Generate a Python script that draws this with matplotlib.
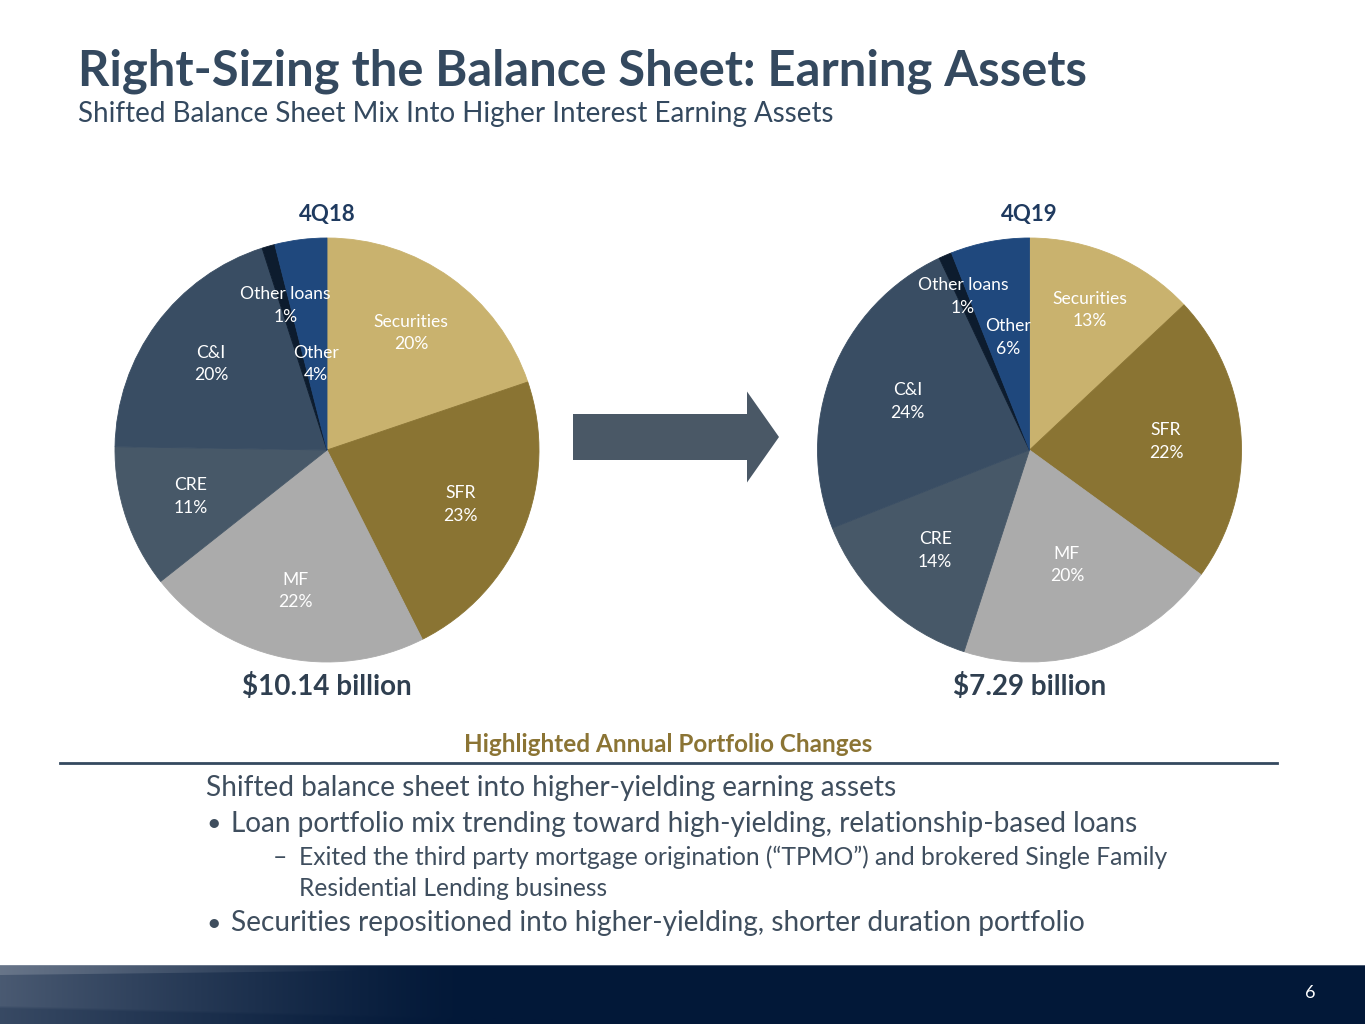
import matplotlib
matplotlib.use("Agg")
import matplotlib.pyplot as plt
import matplotlib.patches as mpatches
import numpy as np

plt.rcParams['font.family'] = ['Lato', 'DejaVu Sans']

# data
categories = ['Securities', 'SFR', 'MF', 'CRE', 'C&I', 'Other loans', 'Other']
share_4q18 = [20, 23, 22, 11, 20, 1, 4]
share_4q19 = [13, 22, 20, 14, 24, 1, 6]
totals = ['$10.14 billion', '$7.29 billion']
periods = ['4Q18', '4Q19']

colors = ['#C9B26E', '#8A7433', '#ABABAB', '#475868', '#394D63', '#0D1C2E', '#1F487D']
# label distance from centre (fraction of radius), per slice
label_dist_4q18 = [0.68, 0.68, 0.68, 0.68, 0.68, 0.71, 0.41]
label_dist_4q19 = [0.72, 0.645, 0.57, 0.65, 0.62, 0.79, 0.54]

W, H = 1365, 1024
fig = plt.figure(figsize=(W / 100, H / 100), dpi=100)
bg = fig.add_axes([0, 0, 1, 1])
bg.set_xlim(0, W)
bg.set_ylim(H, 0)
bg.axis('off')

title_col = '#34495F'
text_col = '#3F4E5E'

bg.text(78, 71, 'Right-Sizing the Balance Sheet: Earning Assets', fontsize=35.2,
        fontweight='bold', color=title_col, va='center', ha='left')
bg.text(78, 114, 'Shifted Balance Sheet Mix Into Higher Interest Earning Assets',
        fontsize=20, color=title_col, va='center', ha='left')


def draw_pie(cx, cy, r, values, dists, period, total):
    ax = fig.add_axes([(cx - r) / W, 1 - (cy + r) / H, 2 * r / W, 2 * r / H])
    wedges, _ = ax.pie(values, colors=colors, startangle=90, counterclock=False,
                       wedgeprops=dict(linewidth=0.6))
    for w, c in zip(wedges, colors):
        w.set_edgecolor(c)
    ax.set_xlim(-1, 1)
    ax.set_ylim(-1, 1)
    ax.set_aspect('equal')
    for w, name, v, d in zip(wedges, categories, values, dists):
        ang = np.deg2rad((w.theta1 + w.theta2) / 2)
        ax.text(d * np.cos(ang), d * np.sin(ang), f'{name}\n{v}%', ha='center',
                va='center', color='white', fontsize=12.6, linespacing=1.5,
                clip_on=False)
    bg.text(cx, 214, period, fontsize=16, fontweight='bold', color='#1F3A5F',
            ha='center', va='center')
    bg.text(cx, 686, total, fontsize=20, fontweight='bold', color='#2F3F50',
            ha='center', va='center')


draw_pie(327, 450, 212, share_4q18, label_dist_4q18, periods[0], totals[0])
draw_pie(1029.5, 450, 212, share_4q19, label_dist_4q19, periods[1], totals[1])

# arrow between pies
bg.add_patch(mpatches.FancyArrow(573, 437, 206, 0, width=46, head_width=91,
                                 head_length=32, length_includes_head=True,
                                 color='#4A5866', lw=0))

bg.text(668, 744, 'Highlighted Annual Portfolio Changes', fontsize=17.5,
        fontweight='bold', color='#8B7434', ha='center', va='center')
bg.plot([60, 1277], [763, 763], color='#34495F', lw=2)

bg.text(206, 788, 'Shifted balance sheet into higher-yielding earning assets',
        fontsize=20.2, color=text_col, va='center')
bg.text(206, 824, '\u2022', fontsize=18, color=text_col, va='center')
bg.text(231, 824, 'Loan portfolio mix trending toward high-yielding, relationship-based loans',
        fontsize=20.2, color=text_col, va='center')
bg.text(273, 857, '\u2013', fontsize=17.7, color=text_col, va='center')
bg.text(299, 857, 'Exited the third party mortgage origination (\u201cTPMO\u201d) and brokered Single Family',
        fontsize=17.7, color=text_col, va='center')
bg.text(299, 889, 'Residential Lending business', fontsize=17.7, color=text_col, va='center')
bg.text(206, 923, '\u2022', fontsize=18, color=text_col, va='center')
bg.text(231, 923, 'Securities repositioned into higher-yielding, shorter duration portfolio',
        fontsize=20.2, color=text_col, va='center')

# footer band
fh = H - 965
xs = np.arange(W)
ys = np.arange(fh)
base = np.array([2, 24, 56]) / 255
light = np.array([74, 90, 114]) / 255
t = np.clip(1 - xs / 470, 0, 1) ** 1.3
img = base + (light - base) * t[None, :, None] * np.ones((fh, 1, 1))
edge = 10 - xs * 0.012
fade = np.clip(1 - xs / 360, 0, 1)
band_w = np.clip(edge[None, :] - ys[:, None], 0, 1) * fade[None, :] * 0.45
img = img * (1 - band_w[..., None]) + np.array([140, 150, 165]) / 255 * band_w[..., None]
low = np.clip((ys[:, None] - (40 + xs[None, :] * 0.025)) / 3, 0, 1) * 0.25
img = img * (1 - low[..., None]) + base * low[..., None]
img[0] = img[0] * 0.5 + np.array([150, 160, 175]) / 255 * 0.5
bg.imshow(img, extent=[0, W, H, 965], aspect='auto', zorder=0)
bg.set_xlim(0, W)
bg.set_ylim(H, 0)
bg.text(1310, 993, '6', fontsize=13, color='white', ha='center', va='center')

fig.savefig('out.png', dpi=100)
